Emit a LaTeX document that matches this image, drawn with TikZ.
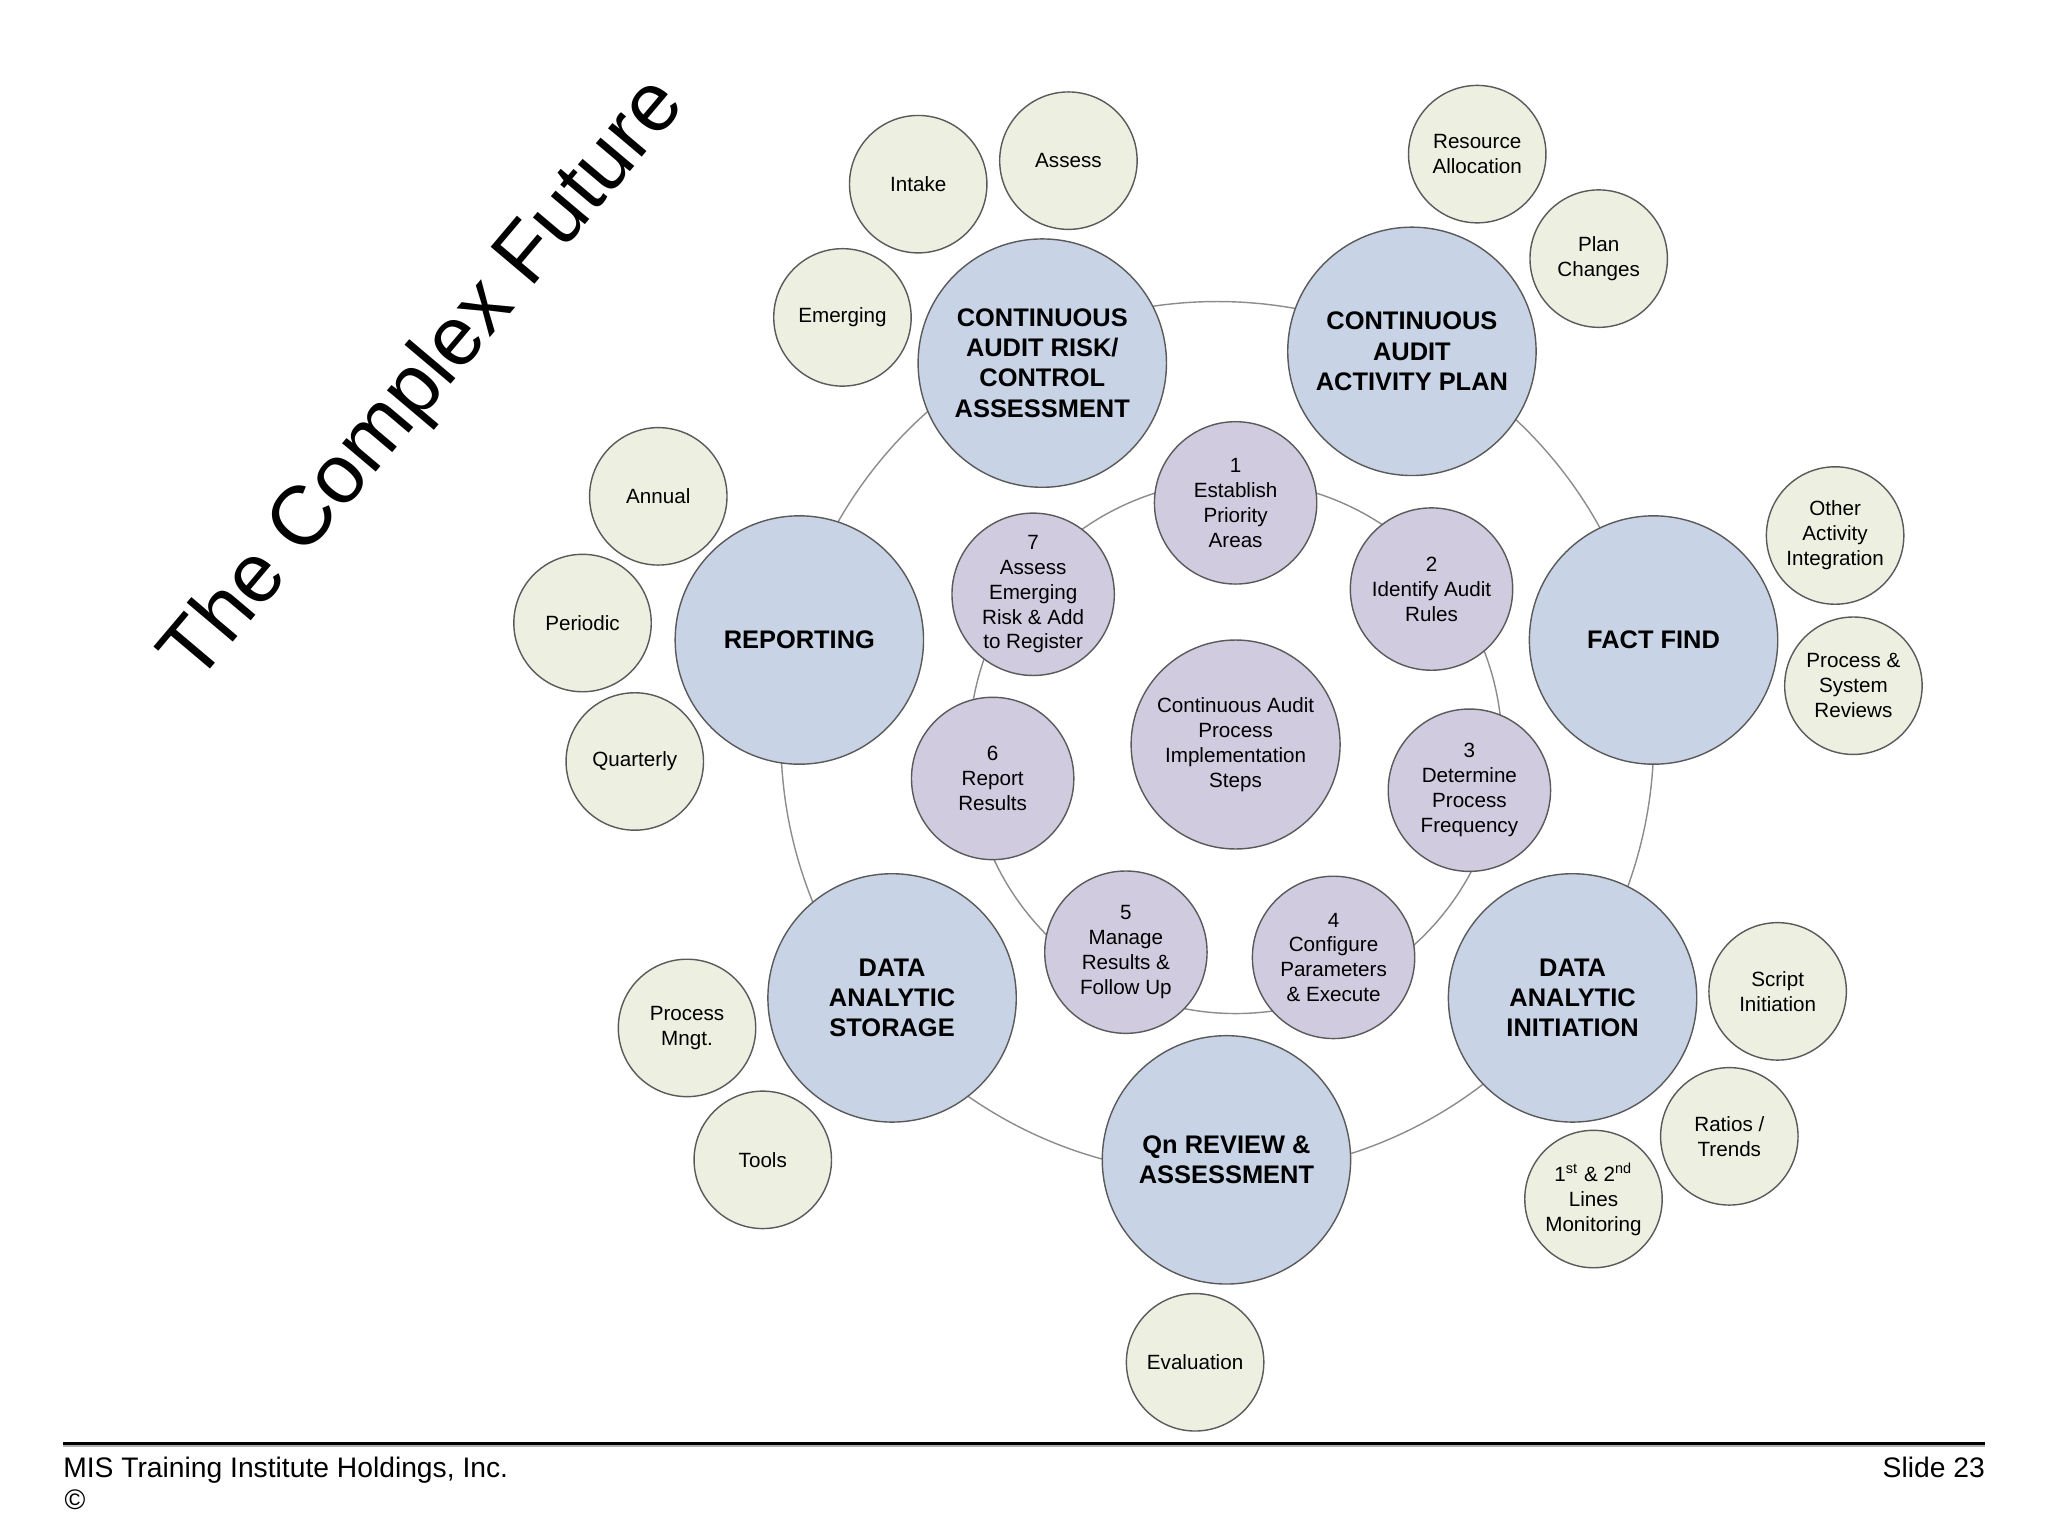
\documentclass[tikz,border=0pt]{standalone}
\usepackage{fontspec}
\setmainfont{Liberation Sans}

\definecolor{phaseblue}{HTML}{C8D4E6}
\definecolor{steppurple}{HTML}{D0CBDF}
\definecolor{taskgreen}{HTML}{EDEFE1}
\definecolor{edgegray}{HTML}{5A5A5A}

\begin{document}
\begin{tikzpicture}[
      x=0.01625cm, y=-0.01625cm, % one unit = one pixel of the slide
      phase/.style={
          circle,
          draw=edgegray,
          fill=phaseblue,
          line width=0.5pt,
          minimum size=3.09cm,
          inner sep=0pt,
          align=center,
          font=\fontsize{9}{10.7}\selectfont\bfseries
      },
      stepnode/.style={
          circle,
          draw=edgegray,
          fill=steppurple,
          line width=0.5pt,
          minimum size=2.02cm,
          inner sep=0pt,
          align=center,
          font=\fontsize{7.3}{8.8}\selectfont
      },
      hub/.style={stepnode, minimum size=2.6cm},
      task/.style={
          circle,
          draw=edgegray,
          fill=taskgreen,
          line width=0.5pt,
          minimum size=1.71cm,
          inner sep=0pt,
          align=center,
          font=\fontsize{7.3}{8.8}\selectfont
      },
      ring/.style={draw=gray!90, line width=0.5pt},
      footer/.style={inner sep=0pt, font=\fontsize{10}{12}\selectfont}
  ]
      \useasboundingbox (0,0) rectangle (1568,1176);

      % Title
      \node (title) [rotate=49.8, anchor=base west, inner sep=0pt, font=\fontsize{29.5}{34}\selectfont] at (150,525) {The Complex Future};

      % Rings
      \coordinate (outerc) at (932,565);
      \coordinate (innerc) at (946,572);
      \draw [ring] (outerc) circle [radius=5.43cm];
      \draw [ring] (innerc) circle [radius=3.315cm];

      % Phases
      \node (risk) [phase] at (798,278) {CONTINUOUS\\AUDIT RISK/\\CONTROL\\ASSESSMENT};
      \node (plan) [phase] at (1081,269) {CONTINUOUS\\AUDIT\\ACTIVITY PLAN};
      \node (fact) [phase] at (1266,490) {FACT FIND};
      \node (init) [phase] at (1204,764) {DATA\\ANALYTIC\\INITIATION};
      \node (review) [phase] at (939,888) {Qn REVIEW \&\\ASSESSMENT};
      \node (storage) [phase] at (683,764) {DATA\\ANALYTIC\\STORAGE};
      \node (report) [phase] at (612,490) {REPORTING};

      % Implementation steps
      \node (hubsteps) [hub] at (946,570) {Continuous Audit\\Process\\Implementation\\Steps};
      \node (s1) [stepnode] at (946,385) {1\\Establish\\Priority\\Areas};
      \node (s2) [stepnode] at (1096,451) {2\\Identify Audit\\Rules};
      \node (s3) [stepnode] at (1125,605) {3\\Determine\\Process\\Frequency};
      \node (s4) [stepnode] at (1021,733) {4\\Configure\\Parameters\\\& Execute};
      \node (s5) [stepnode] at (862,729) {5\\Manage\\Results \&\\Follow Up};
      \node (s6) [stepnode] at (760,596) {6\\Report\\Results};
      \node (s7) [stepnode] at (791,455) {7\\Assess\\Emerging\\Risk \& Add\\to Register};

      % Tasks
      \node (intake) [task] at (703,141) {Intake};
      \node (assess) [task] at (818,123) {Assess};
      \node (emerging) [task] at (645,243) {Emerging};
      \node (resource) [task] at (1131,118) {Resource\\Allocation};
      \node (changes) [task] at (1224,198) {Plan\\Changes};
      \node (other) [task] at (1405,410) {Other\\Activity\\Integration};
      \node (sysrev) [task] at (1419,525) {Process \&\\System\\Reviews};
      \node (script) [task] at (1361,759) {Script\\Initiation};
      \node (ratios) [task] at (1324,870) {Ratios /\\Trends};
      \node (lines) [task] at (1220,918) {1\textsuperscript{st} \& 2\textsuperscript{nd}\\Lines\\Monitoring};
      \node (evaluation) [task] at (915,1043) {Evaluation};
      \node (tools) [task] at (584,888) {Tools};
      \node (mngt) [task] at (526,787) {Process\\Mngt.};
      \node (quarterly) [task] at (486,583) {Quarterly};
      \node (periodic) [task] at (446,477) {Periodic};
      \node (annual) [task] at (504,380) {Annual};

      % Footer
      \coordinate (ruleL) at (48,1105);
      \coordinate (ruleR) at (1520,1105);
      \draw [gray!60, line width=0.6pt] ([yshift=-0.9pt]ruleL) -- ([yshift=-0.9pt]ruleR);
      \draw [black, line width=1.1pt] (ruleL) -- (ruleR);
      \node (org) [footer, anchor=base west] at (48,1131) {MIS Training Institute Holdings, Inc.};
      \node (copyr) [footer, anchor=base west] at (49,1156) {\textcopyright};
      \node (slide) [footer, anchor=base east] at (1520,1131) {Slide 23};
  \end{tikzpicture}
\end{document}
